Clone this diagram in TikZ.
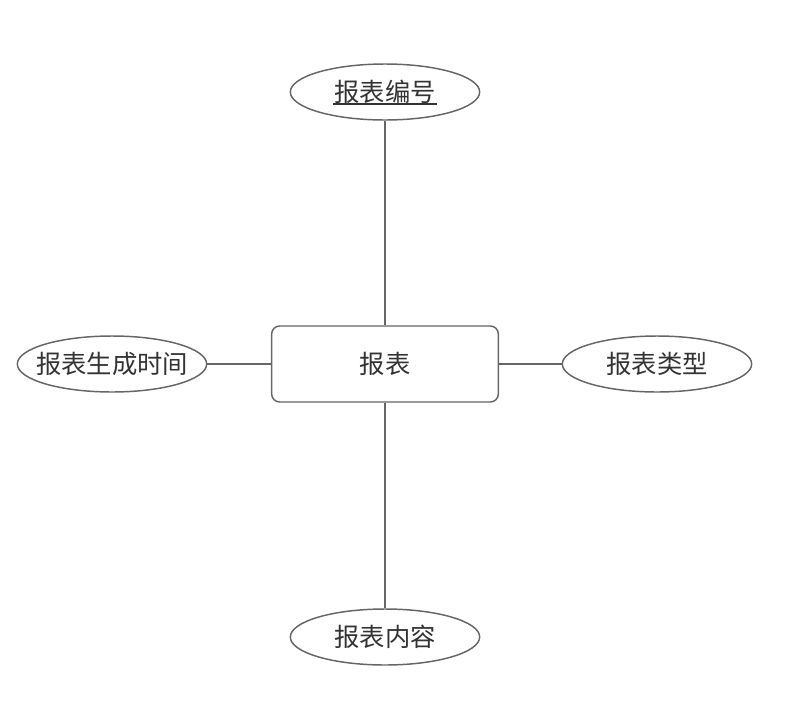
\documentclass[tikz,border=0pt]{standalone}
\usepackage{fontspec}
\newfontfamily\cjk{Noto Sans CJK SC}
\usetikzlibrary{shapes.geometric}
\definecolor{LineClr}{HTML}{666666}
\definecolor{TextClr}{HTML}{333333}
\newcommand{\attrtext}[1]{\makebox[0pt]{#1}}

\begin{document}
\begin{tikzpicture}[x=0.75pt,y=-0.75pt]
\tikzset{entity/.style={draw=LineClr,line width=1.1pt,rounded corners=6pt,minimum width=170pt,minimum height=57pt,font=\cjk\fontsize{19}{21}\selectfont,text=TextClr},
  attrib/.style={ellipse,draw=LineClr,line width=1.1pt,minimum width=142pt,minimum height=42pt,inner sep=0pt,font=\cjk\fontsize{19}{21}\selectfont,text=TextClr},
  link/.style={draw=LineClr,line width=1.1pt}}
\useasboundingbox (0,0) rectangle (793,718);

\node[entity] (R) at (385,364) {报表};

\node[attrib] (ID) at (385,92) {\attrtext{报表编号}};
\node[attrib] (Time) at (112,364) {\attrtext{报表生成时间}};
\node[attrib] (Type) at (657,364) {\attrtext{报表类型}};
\node[attrib] (Body) at (385,637) {\attrtext{报表内容}};

% key attribute underline
\draw[TextClr,line width=1.5pt] ([xshift=-39pt,yshift=-9pt]ID.center) -- ([xshift=39pt,yshift=-9pt]ID.center);

\draw[link] (R) -- (ID);
\draw[link] (R) -- (Time);
\draw[link] (R) -- (Type);
\draw[link] (R) -- (Body);

\end{tikzpicture}
\end{document}
